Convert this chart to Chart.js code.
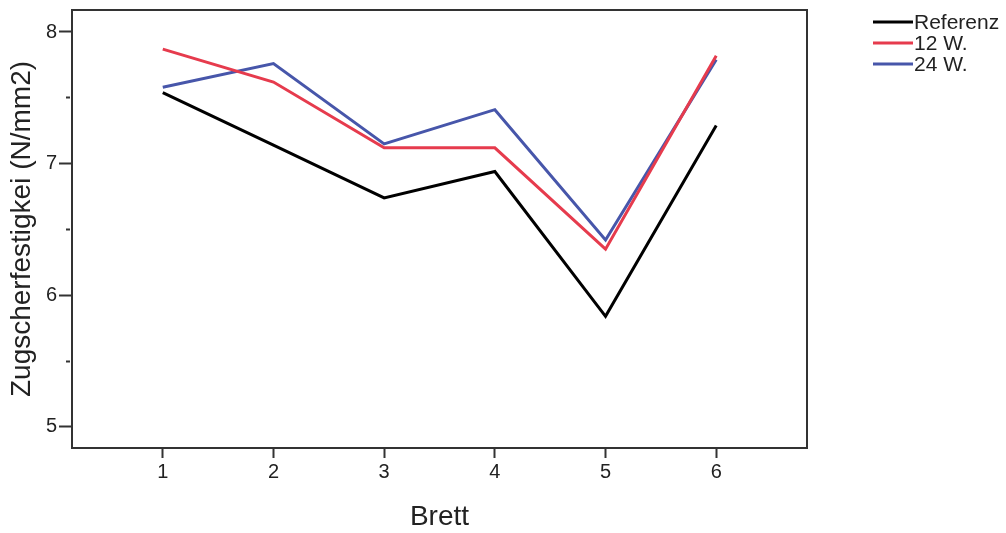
<!DOCTYPE html>
<html>
<head>
<meta charset="utf-8">
<script src="https://cdn.jsdelivr.net/npm/chart.js@4.4.1/dist/chart.umd.min.js"></script>
<style>
  html, body { margin:0; padding:0; background:#fff; }
  #wrap { width:1006px; height:533px; }
</style>
</head>
<body>
<div id="wrap"><canvas id="chart"></canvas></div>
<script>
// Brett 1..6
const bretter = [1, 2, 3, 4, 5, 6];
const referenz = [7.54, 7.14, 6.74, 6.94, 5.84, 7.29];
const w12 = [7.87, 7.62, 7.12, 7.12, 6.35, 7.82];
const w24 = [7.58, 7.76, 7.15, 7.41, 6.42, 7.79];
const yTicks = [5, 6, 7, 8];
const yMinor = [5.5, 6.5, 7.5];

const FONT = "'Liberation Sans', Arial, sans-serif";

function pts(vals){
  return bretter.map((b, i) => ({ x: b, y: vals[i] }));
}

// rahmen um plotfläche + legende rechts oben
const rahmen = {
  id: 'rahmen',
  afterDatasetsDraw(chart){
    const { ctx, chartArea: a } = chart;
    ctx.save();
    ctx.strokeStyle = '#333';
    ctx.lineWidth = 2;
    ctx.strokeRect(a.left, a.top, a.right - a.left, a.bottom - a.top);
    ctx.restore();
  },
  afterDraw(chart){
    const ctx = chart.ctx;
    ctx.save();
    ctx.font = '21px ' + FONT;
    ctx.textBaseline = 'middle';
    chart.data.datasets.forEach((ds, i) => {
      const y = 22 + i * 21;
      ctx.strokeStyle = ds.borderColor;
      ctx.lineWidth = 3;
      ctx.beginPath();
      ctx.moveTo(873, y);
      ctx.lineTo(913, y);
      ctx.stroke();
      ctx.fillStyle = '#222';
      ctx.fillText(ds.label, 914, y + 1);
    });
    ctx.restore();
  }
};

new Chart(document.getElementById('chart'), {
  type: 'line',
  data: {
    datasets: [
      { label: 'Referenz', data: pts(referenz), borderColor: '#000000' },
      { label: '12 W.', data: pts(w12), borderColor: '#e63b4d' },
      { label: '24 W.', data: pts(w24), borderColor: '#4756aa' }
    ]
  },
  options: {
    responsive: true,
    maintainAspectRatio: false,
    animation: false,
    layout: { padding: { top: 10, right: 199, left: 0, bottom: 0 } },
    elements: {
      line: { borderWidth: 3, tension: 0 },
      point: { radius: 0 }
    },
    plugins: { legend: { display: false }, tooltip: { enabled: false } },
    scales: {
      x: {
        type: 'linear',
        min: 0.18,
        max: 6.82,
        afterFit(s){ s.height = 85; s.paddingLeft = 0; s.paddingRight = 0; },
        afterBuildTicks(s){ s.ticks = bretter.map(v => ({ value: v })); },
        grid: { drawOnChartArea: false, drawTicks: true, tickLength: 10, tickColor: '#333', tickWidth: 2 },
        border: { display: false },
        ticks: { padding: 2, color: '#222', font: { family: FONT, size: 20 } },
        title: { display: true, text: 'Brett', color: '#222', padding: { top: 0, bottom: 0 },
                 font: { family: FONT, size: 28, lineHeight: 1.1 } }
      },
      y: {
        min: 4.84,
        max: 8.167,
        afterFit(s){ s.width = 72; s.paddingTop = 0; s.paddingBottom = 0; },
        afterBuildTicks(s){
          s.ticks = yTicks.concat(yMinor).sort((a, b) => a - b).map(v => ({ value: v }));
        },
        grid: {
          drawOnChartArea: false, drawTicks: true, tickLength: 13, tickColor: '#333', tickWidth: 2,
          tickBorderDash: (c) => (c.tick && yMinor.includes(c.tick.value)) ? [0, 7, 4, 100] : []
        },
        border: { display: false },
        ticks: {
          padding: 2, color: '#222', font: { family: FONT, size: 20 },
          callback: (v) => yTicks.includes(v) ? String(v) : ''
        },
        title: { display: true, text: 'Zugscherfestigkei (N/mm2)', color: '#222', padding: { top: 5, bottom: 0 },
                 font: { family: FONT, size: 28, lineHeight: 1.2 } }
      }
    }
  },
  plugins: [rahmen]
});
</script>
</body>
</html>
